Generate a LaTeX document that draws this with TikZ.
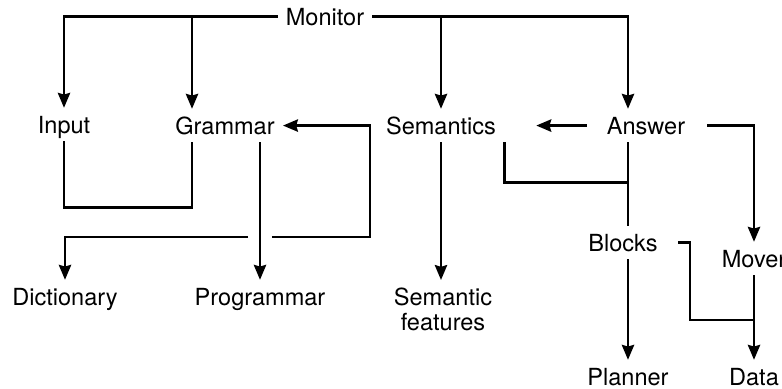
\documentclass[tikz,border=0pt]{standalone}
\usepackage{fontspec}
\setmainfont{TeX Gyre Heros}
\usetikzlibrary{arrows.meta,calc}

\begin{document}
\begin{tikzpicture}[x=0.02cm,y=-0.02cm,
  lbl/.style={inner sep=0.16cm,font=\fontsize{13.4}{14.2}\selectfont},
  word/.style={lbl,text height=9.6pt,text depth=0pt,anchor=base},
  wire/.style={line width=1.4pt},
  arr/.style={wire,-{Stealth[length=8.5pt,width=7pt,inset=1pt]}}]
\useasboundingbox (0,0) rectangle (782,389);

\node[word] (Monitor) at (325,25) {Monitor};
\node[word] (Input) at (64,133) {Input};
\node[word] (Grammar) at (225,134) {Grammar};
\node[word] (Semantics) at (441,134) {Semantics};
\node[word] (Answer) at (646,134) {Answer};
\node[word] (Dictionary) at (65,305) {Dictionary};
\node[word] (Programmar) at (260,305) {Programmar};
\node[lbl,anchor=north,align=center] (Features) at (443,280) {Semantic\\features};
\node[word] (Blocks) at (623,251) {Blocks};
\node[word] (Mover) at (754,267) {Mover};
\node[word] (Planner) at (628,385) {Planner};
\node[word] (Data) at (754,385) {Data};
\coordinate (loop) at (370,237);

% Monitor fans out
\draw[arr] (Monitor.west) -| (Input.north);
\draw[arr] ([xshift=-0.66cm]Grammar.north |- Monitor.west) -- ([xshift=-0.66cm]Grammar.north);
\draw[arr] (Monitor.east) -| (Answer.north -| Planner.north);
\draw[arr] (Semantics.north |- Monitor.east) -- (Semantics.north);

% Input joined to Grammar
\draw[wire] (Input.south) -- ++(0,66) -| ([xshift=-0.66cm]Grammar.south);
\draw[arr] (Grammar.south -| Programmar.north) -- (Programmar.north);

% feedback into Grammar and Dictionary, broken where it crosses
\draw[arr] ([xshift=0.24cm]Programmar.north |- loop) -- (loop) |- (Grammar.east);
\draw[arr] ([xshift=-0.24cm]Programmar.north |- loop) -| (Dictionary.north);

% Semantics side
\draw[arr] (Semantics.south) -- (Semantics.south |- Features.north);
\draw[arr] ([xshift=-0.24cm]Answer.west) -- ([xshift=0.64cm]Semantics.east);
\draw[wire] (Semantics.south east) |- +(123,40);

% Answer side
\draw[wire] (Answer.south -| Planner.north) -- (Blocks.north -| Planner.north);
\draw[arr] (Blocks.south -| Planner.north) -- (Planner.north);
\draw[arr] ([xshift=0.28cm]Answer.east) -| (Mover.north);
\draw[arr] (Mover.south) -- (Mover.south |- Data.north);
\draw[wire] ([xshift=0.24cm]Blocks.east) -- ++(12,0) |- ($(Mover.south)!.53!(Mover.south |- Data.north)$);
\end{tikzpicture}
\end{document}
